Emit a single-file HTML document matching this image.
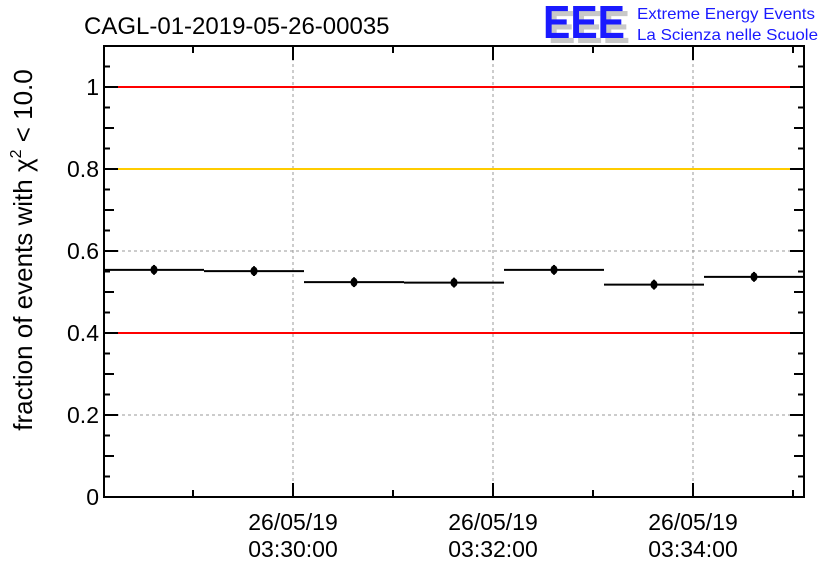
<!DOCTYPE html>
<html><head><meta charset="utf-8"><style>
body{margin:0;background:#fff}
svg{display:block;font-family:"Liberation Sans",sans-serif}
</style></head><body>
<svg id="c" width="836" height="572" viewBox="0 0 836 572">
<text x="84" y="34" font-size="24" fill="#000">CAGL-01-2019-05-26-00035</text>
<g>
<text x="548" y="43" font-size="46" font-weight="bold" fill="#c8c8c8" textLength="82" lengthAdjust="spacingAndGlyphs">EEE</text>
<text x="543" y="38" font-size="46" font-weight="bold" fill="#1a1aff" textLength="82" lengthAdjust="spacingAndGlyphs">EEE</text>
<text x="637" y="19" font-size="16" fill="#1a1aff" textLength="178" lengthAdjust="spacingAndGlyphs">Extreme Energy Events</text>
<text x="637" y="40" font-size="16" fill="#1a1aff" textLength="181" lengthAdjust="spacingAndGlyphs">La Scienza nelle Scuole</text>
</g>
<text transform="translate(32,250) rotate(-90)" text-anchor="middle" font-size="26" fill="#000">fraction of events with χ<tspan dy="-11" font-size="16">2</tspan><tspan dy="11"> &lt; 10.0</tspan></text>
<g id="grid"></g><g id="marks"></g><g id="axes"></g>
</svg>
<script>
const binStartMin=[0,1,2,3,4,5,6];
const fractions=[0.554,0.551,0.524,0.523,0.554,0.518,0.537];
const errors=[0.012,0.012,0.012,0.012,0.012,0.012,0.012];
const yTicks=[0,0.2,0.4,0.6,0.8,1];
const yTickLabels=["0","0.2","0.4","0.6","0.8","1"];
const xTicksMin=[2,4,6];
const xTickLabels=[["26/05/19","03:30:00"],["26/05/19","03:32:00"],["26/05/19","03:34:00"]];
const refLines=[1,0.8,0.4];
const refColors=["#ff0000","#ffcc00","#ff0000"];
const L=104,R=804,T=46,B=497;
const X=m=>L+m*100;
const TX=m=>L+m*100-11;
const Y=v=>B-v*410;
const NS="http://www.w3.org/2000/svg";
function mk(p,t,a){const e=document.createElementNS(NS,t);for(const k in a)e.setAttribute(k,a[k]);p.appendChild(e);return e;}
const grid=document.getElementById('grid'),marks=document.getElementById('marks'),axes=document.getElementById('axes');
yTicks.forEach((v,i)=>{if(v>0&&v<1){const g=mk(grid,'line',{x1:L,x2:R,y1:Y(v),y2:Y(v),stroke:'#999','stroke-dasharray':'3,3','stroke-width':1});

}
const t=mk(axes,'text',{x:L-5,y:Y(v)+8,'text-anchor':'end','font-size':23});t.textContent=yTickLabels[i];

});
xTicksMin.forEach((m,i)=>{const g=mk(grid,'line',{x1:TX(m),x2:TX(m),y1:T,y2:B,stroke:'#999','stroke-dasharray':'3,3','stroke-width':1});


const t=mk(axes,'text',{x:TX(m),y:530,'text-anchor':'middle','font-size':23});t.textContent=xTickLabels[i][0];


const t2=mk(axes,'text',{x:TX(m),y:557,'text-anchor':'middle','font-size':23});t2.textContent=xTickLabels[i][1];

});
refLines.forEach((v,i)=>{const l=mk(marks,'line',{x1:L,x2:R,y1:Y(v),y2:Y(v),stroke:refColors[i],'stroke-width':2});

});
fractions.forEach((v,i)=>{const x0=X(binStartMin[i]),x1=X(binStartMin[i]+1),cx=(x0+x1)/2;
const h=mk(marks,'line',{x1:x0,x2:x1,y1:Y(v),y2:Y(v),stroke:'#000','stroke-width':2});


const e=mk(marks,'line',{x1:cx,x2:cx,y1:Y(v+errors[i]),y2:Y(v-errors[i]),stroke:'#000','stroke-width':2});


const p=mk(marks,'ellipse',{cx:cx,cy:Y(v),rx:3.5,ry:4.5,fill:'#000'});

});
const f=mk(axes,'rect',{x:L,y:T,width:R-L,height:B-T,fill:'none',stroke:'#000','stroke-width':2});


for(let v=0;v<=1.1001;v+=0.05){const r=Math.round(v*100);const len=r%20===0?14:(r%10===0?10:6);
mk(axes,'line',{x1:L,x2:L+len,y1:Y(v),y2:Y(v),stroke:'#000','stroke-width':2});
mk(axes,'line',{x1:R,x2:R-len,y1:Y(v),y2:Y(v),stroke:'#000','stroke-width':2});}
for(let m=1;m<=7;m++){const len=m%2===0?14:7;
mk(axes,'line',{x1:TX(m),x2:TX(m),y1:B,y2:B-len,stroke:'#000','stroke-width':2});
mk(axes,'line',{x1:TX(m),x2:TX(m),y1:T,y2:T+len,stroke:'#000','stroke-width':2});}
</script>
</body></html>
